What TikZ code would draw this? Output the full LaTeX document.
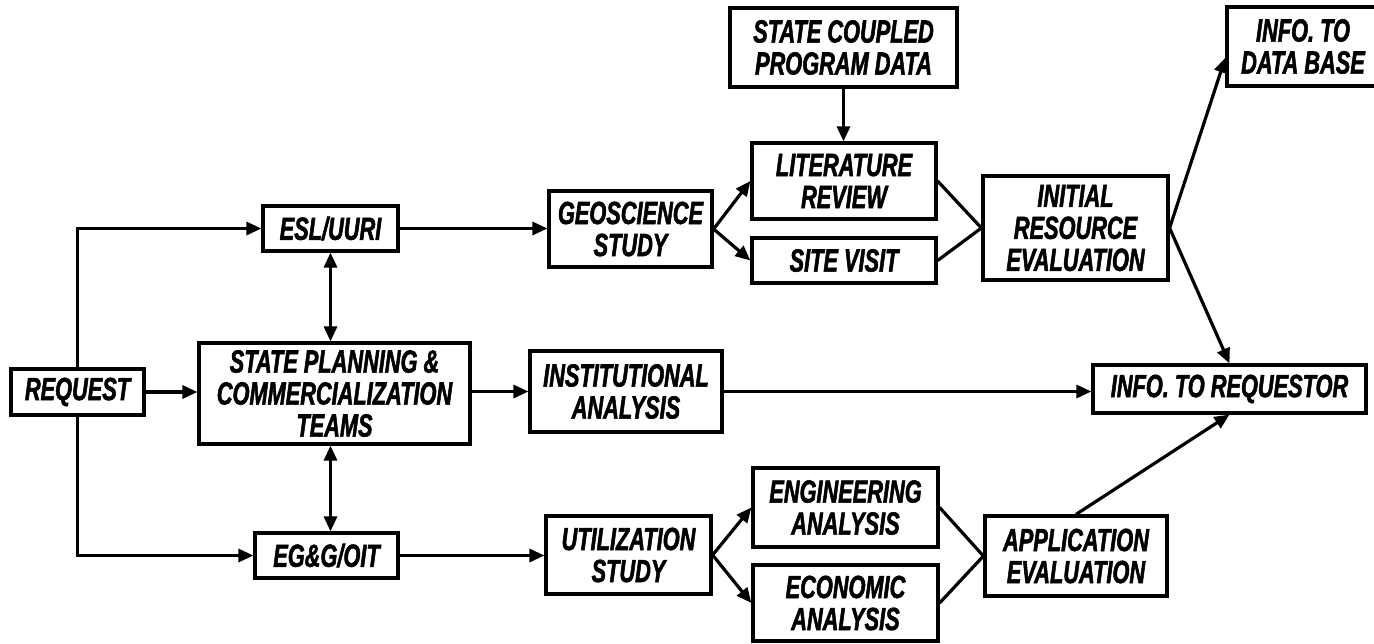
\documentclass[tikz,border=0pt]{standalone}
\usepackage{fontspec}
\usetikzlibrary{arrows.meta}
\newfontfamily\handfont[FakeStretch=0.68,FakeBold=1.6]{Liberation Sans}
\begin{document}
\begin{tikzpicture}[x=1pt,y=-1pt,
  box/.style={draw, line width=3.2pt, inner sep=0pt, align=center,
    font=\handfont\bfseries\itshape\fontsize{32}{32}\selectfont},
  link/.style={line width=3.2pt},
  arr/.style={link, -{Triangle[length=15pt,width=13pt]}},
  darr/.style={link, {Triangle[length=15pt,width=13pt]}-{Triangle[length=15pt,width=13pt]}}]
\fill[white] (0,0) rectangle (1374,643);
\useasboundingbox (0,0) rectangle (1374,643);

% left column
\node[box, minimum width=133pt, minimum height=46pt] (req) at (77.5,392) {REQUEST};
\node[box, minimum width=135pt, minimum height=45pt] (esl) at (330.5,228.5) {ESL/UURI};
\node[box, minimum width=271pt, minimum height=101pt] (sp) at (334.5,393.5) {STATE PLANNING \&\\COMMERCIALIZATION\\TEAMS};
\node[box, minimum width=143pt, minimum height=45pt] (egg) at (326.5,555.5) {EG\&G/OIT};

% studies
\node[box, minimum width=163pt, minimum height=76pt] (geo) at (630.5,229) {GEOSCIENCE\\STUDY};
\node[box, minimum width=192pt, minimum height=81pt] (inst) at (626,391.5) {INSTITUTIONAL\\ANALYSIS};
\node[box, minimum width=165pt, minimum height=78pt] (util) at (628.5,555) {UTILIZATION\\STUDY};

% analyses
\node[box, minimum width=227pt, minimum height=79pt] (scp) at (843.5,47.5) {STATE COUPLED\\PROGRAM DATA};
\node[box, minimum width=184pt, minimum height=76pt] (lit) at (844,181) {LITERATURE\\REVIEW};
\node[box, minimum width=184pt, minimum height=45pt] (site) at (844,260.5) {SITE VISIT};
\node[box, minimum width=185pt, minimum height=79pt] (eng) at (845.5,507.5) {ENGINEERING\\ANALYSIS};
\node[box, minimum width=185pt, minimum height=76pt] (eco) at (845.5,603) {ECONOMIC\\ANALYSIS};

% evaluations and outputs
\node[box, minimum width=185pt, minimum height=104pt] (ire) at (1075.5,228) {INITIAL\\RESOURCE\\EVALUATION};
\node[box, minimum width=182pt, minimum height=80pt] (app) at (1076,556) {APPLICATION\\EVALUATION};
\node[box, minimum width=152pt, minimum height=79pt] (db) at (1303,46.5) {INFO. TO\\DATA BASE};
\node[box, minimum width=273pt, minimum height=48pt] (ireq) at (1229.5,389) {INFO. TO REQUESTOR};

% request distribution
\draw[arr] (req.north) |- (esl.west);
\draw[arr] (req.south) |- (egg.west);
\draw[arr] (req.east) -- (req.east -| sp.west);
\draw[darr] (esl.south) -- (esl.south |- sp.north);
\draw[darr] (esl.south |- sp.south) -- (esl.south |- egg.north);

% studies
\draw[arr] (esl.east) -- (esl.east -| geo.west);
\draw[arr] (inst.west -| sp.east) -- (inst.west);
\draw[arr] (egg.east) -- (egg.east -| util.west);

% geoscience branch
\draw[arr] (scp.south) -- (scp.south |- lit.north);
\draw[arr] (geo.east) -- (lit.west);
\draw[arr] (geo.east) -- (site.west);
\draw[link] (lit.east) -- (ire.west) -- (site.east);
\draw[arr] (ire.east) -- ([yshift=30pt]db.south west);
\draw[arr] (ire.east) -- (ireq.north);

% institutional branch
\draw[arr] (inst.east) -- (inst.east -| ireq.west);

% utilization branch
\draw[arr] (util.east) -- (eng.west);
\draw[arr] (util.east) -- (eco.west);
\draw[link] (eng.east) -- (app.west) -- (eco.east);
\draw[arr] (app.north) -- (ireq.south);
\end{tikzpicture}
\end{document}
